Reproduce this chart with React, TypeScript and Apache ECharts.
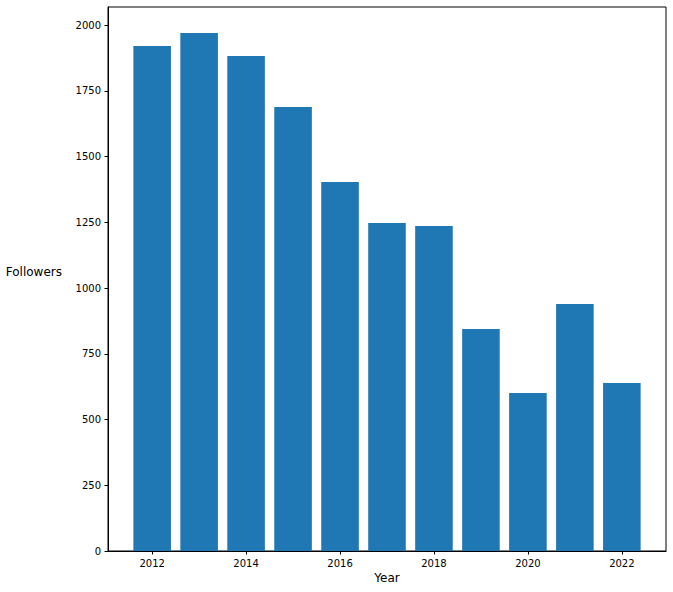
import React, { useEffect, useRef } from "react";
import * as echarts from "echarts";

const years = [2012, 2013, 2014, 2015, 2016, 2017, 2018, 2019, 2020, 2021, 2022];
const followers = [1920, 1970, 1882, 1688, 1403, 1247, 1236, 844, 601, 939, 639];
const xTicks = [2012, 2014, 2016, 2018, 2020, 2022];
const yTicks = [0, 250, 500, 750, 1000, 1250, 1500, 1750, 2000];

export default function App() {
  const ref = useRef<HTMLDivElement>(null);
  useEffect(() => {
    if (!ref.current) return;
    const chart = echarts.init(ref.current, undefined, { renderer: "svg" });
    const W = 673, H = 592;
    const left = 108, right = 7, top = 7, bottom = 41;
    const xMin = 2011.6 - 0.54, xMax = 2022.4 + 0.54;
    const yMax = 1970 * 1.05;
    const plotW = W - left - right;
    const barW = (0.8 * plotW) / (xMax - xMin);
    const font = "DejaVu Sans";
    chart.setOption({
      animation: false,
      backgroundColor: "#fff",
      grid: {
        left, right, top, bottom,
        show: true,
        borderColor: "#000",
        borderWidth: 1,
        backgroundColor: "transparent",
      },
      xAxis: {
        type: "value",
        min: xMin,
        max: xMax,
        splitLine: { show: false },
        axisLine: { show: true, lineStyle: { color: "#000", width: 1 } },
        axisTick: { show: true, length: 3.5, lineStyle: { color: "#000" }, customValues: xTicks },
        axisLabel: { margin: 7, color: "#000", fontSize: 10, fontFamily: font, customValues: xTicks, formatter: (v: number) => String(v) },
      },
      yAxis: {
        type: "value",
        min: 0,
        max: yMax,
        splitLine: { show: false },
        axisLine: { show: true, lineStyle: { color: "#000", width: 1 } },
        axisTick: { show: true, length: 3.5, lineStyle: { color: "#000" }, customValues: yTicks },
        axisLabel: { margin: 7, color: "#000", fontSize: 10, fontFamily: font, customValues: yTicks, formatter: (v: number) => String(v) },
      },
      series: [
        {
          type: "bar",
          data: years.map((y, i) => [y, followers[i]]),
          barWidth: barW,
          itemStyle: { color: "#1f77b4" },
        },
      ],
      graphic: [
        {
          type: "text",
          left: undefined,
          x: left + plotW / 2,
          y: 578,
          style: { text: "Year", fontSize: 12, fontFamily: font, fill: "#000", align: "center", verticalAlign: "middle" },
        },
        {
          type: "text",
          x: 62,
          y: 272,
          style: { text: "Followers", fontSize: 12, fontFamily: font, fill: "#000", align: "right", verticalAlign: "middle" },
        },
      ],
    });
    return () => chart.dispose();
  }, []);
  return <div ref={ref} style={{ position: "absolute", left: 0, top: 0, width: 673, height: 592 }} />;
}
